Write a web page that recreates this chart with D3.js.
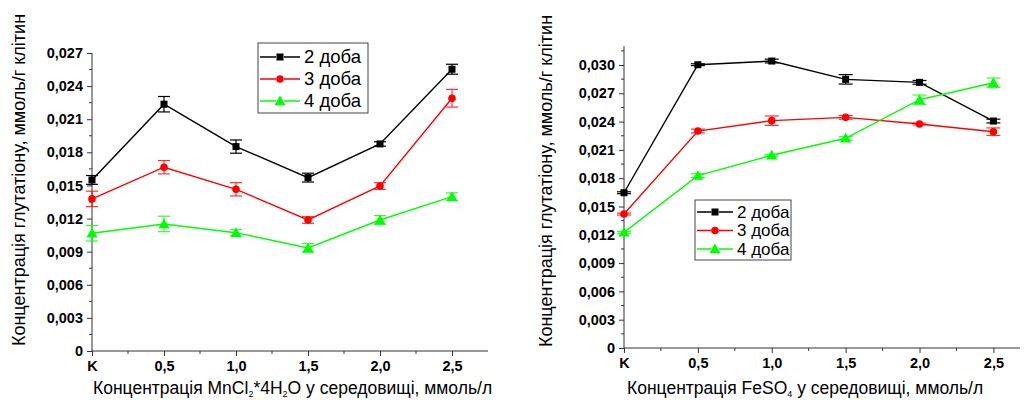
<!DOCTYPE html>
<html><head><meta charset="utf-8">
<script src="https://cdn.jsdelivr.net/npm/d3@7"></script>
<style>body{margin:0;background:#fff}svg{display:block}text{font-family:"Liberation Sans",Arial,sans-serif}</style>
</head><body><svg id="c" width="1025" height="400"></svg>
<script>
const xCats = [0, 0.5, 1.0, 1.5, 2.0, 2.5];
const xTickLabels = ["K", "0,5", "1,0", "1,5", "2,0", "2,5"];
const seriesNames = ["2 доба", "3 доба", "4 доба"];
const seriesColors = ["#000000", "#ff0000", "#00ff00"];
const seriesMarkers = ["square", "circle", "triangle"];

// Left: MnCl2
const mn2 = [0.0155, 0.02236, 0.01852, 0.01571, 0.01876, 0.02553];
const mn2Err = [0.0004, 0.0007, 0.0006, 0.0004, 0.0002, 0.00045];
const mn3 = [0.01378, 0.01665, 0.01465, 0.01187, 0.01495, 0.0229];
const mn3Err = [0.0007, 0.0006, 0.0006, 0.0003, 0.0003, 0.0008];
const mn4 = [0.01067, 0.01151, 0.01072, 0.00934, 0.01187, 0.01398];
const mn4Err = [0.0007, 0.0007, 0.0003, 0.0004, 0.0004, 0.00035];
const mnYTicks = [0, 0.003, 0.006, 0.009, 0.012, 0.015, 0.018, 0.021, 0.024, 0.027];

// Right: FeSO4
const fe2 = [0.01646, 0.03003, 0.03042, 0.02848, 0.02816, 0.02406];
const fe2Err = [0.0001, 0.0001, 0.0002, 0.0005, 0.0002, 0.0002];
const fe3 = [0.0142, 0.0230, 0.0241, 0.02445, 0.02375, 0.02293];
const fe3Err = [0.0001, 0.0002, 0.0005, 0.0002, 0.0001, 0.0004];
const fe4 = [0.01226, 0.01827, 0.02043, 0.02223, 0.02632, 0.02812];
const fe4Err = [0.0001, 0.0002, 0.0001, 0.0002, 0.0005, 0.0005];
const feYTicks = [0, 0.003, 0.006, 0.009, 0.012, 0.015, 0.018, 0.021, 0.024, 0.027, 0.030];

const yTitle = "Концентрація глутатіону, ммоль/г клітин";

const svg = d3.select("#c");
const fmtY = v => v === 0 ? "0" : d3.format(".3f")(v).replace(".", ",");

function chart(cfg) {
  const g = svg.append("g");
  const x = d3.scaleLinear().domain([0, cfg.xMax]).range([cfg.x0, cfg.x1]);
  const y = d3.scaleLinear().domain([0, cfg.yMax]).range([cfg.y0, cfg.y1]);
  const axisColor = "#333";

  const xa = g.append("g").attr("transform", `translate(0,${cfg.y0})`)
    .call(d3.axisBottom(x).tickValues(xCats).tickSize(5).tickPadding(5)
      .tickFormat((d, i) => xTickLabels[i]));
  const minorX = d3.range(0.25, cfg.xMax, 0.5);
  xa.selectAll(".minor").data(minorX).enter().append("line").attr("class", "minor")
    .attr("x1", d => x(d)).attr("x2", d => x(d)).attr("y1", 0).attr("y2", 3).attr("stroke", axisColor);
  const ya = g.append("g").attr("transform", `translate(${cfg.x0},0)`)
    .call(d3.axisLeft(y).tickValues(cfg.yTicks).tickSize(5).tickPadding(4).tickFormat(fmtY));
  const minorY = d3.range(0.0015, cfg.yMax, 0.003);
  ya.selectAll(".minor").data(minorY).enter().append("line").attr("class", "minor")
    .attr("y1", d => y(d)).attr("y2", d => y(d)).attr("x1", 0).attr("x2", -3).attr("stroke", axisColor);
  [xa, ya].forEach(a => {
    a.select(".domain").attr("stroke", axisColor);
    a.selectAll(".tick line").attr("stroke", axisColor);
    a.selectAll(".tick text").attr("fill", "#000").attr("font-size", 14.5).attr("font-weight", "bold")
      .attr("font-family", "'Liberation Sans',Arial,sans-serif");
  });
  xa.select(".domain").attr("d", `M${cfg.x0},0H${cfg.x1}`);
  ya.select(".domain").attr("d", `M0,${cfg.y0}V${cfg.y1}`);

  cfg.series.forEach((s, si) => {
    const col = seriesColors[si];
    const line = d3.line().x((d, i) => x(xCats[i])).y(d => y(d));
    g.append("path").attr("d", line(s.v)).attr("fill", "none").attr("stroke", col).attr("stroke-width", 1.4);
    s.v.forEach((v, i) => {
      const cx = x(xCats[i]), e = s.e[i];
      const eb = g.append("g").attr("stroke", col).attr("stroke-width", 1.2).attr("opacity", si === 0 ? 1 : 0.8);
      eb.append("line").attr("x1", cx).attr("x2", cx).attr("y1", y(v - e)).attr("y2", y(v + e));
      [v - e, v + e].forEach(w => eb.append("line").attr("x1", cx - cfg.cap).attr("x2", cx + cfg.cap)
        .attr("y1", y(w)).attr("y2", y(w)));
      marker(g, seriesMarkers[si], cx, y(v), col, cfg.ms);
    });
  });

  const L = cfg.legend;
  g.append("rect").attr("x", L.x).attr("y", L.y).attr("width", L.w).attr("height", L.h)
    .attr("fill", "#fff").attr("stroke", "#444").attr("stroke-width", 1);
  seriesNames.forEach((n, i) => {
    const ry = L.y + L.r0 + i * L.dy;
    g.append("line").attr("x1", L.x + 2).attr("x2", L.x + 2 + L.lw).attr("y1", ry).attr("y2", ry)
      .attr("stroke", seriesColors[i]).attr("stroke-width", 1.3).attr("stroke-dasharray", `${L.lw * 0.4} ${L.lw * 0.2} ${L.lw * 0.4}`);
    marker(g, seriesMarkers[i], L.x + 2 + L.lw / 2, ry, seriesColors[i], cfg.ms);
    g.append("text").attr("x", L.x + L.lw + 6).attr("y", ry).attr("dy", "0.35em")
      .attr("font-size", L.fs).text(n);
  });

  const xt = g.append("text").attr("x", cfg.xtX).attr("y", 394).attr("font-size", 17.5);
  cfg.xTitle(xt);
  g.append("text").attr("transform", `translate(${cfg.ytX},${cfg.ytY}) rotate(-90)`)
    .attr("text-anchor", "middle").attr("font-size", 18).text(yTitle);
}

function marker(g, type, cx, cy, col, s) {
  if (type === "square") g.append("rect").attr("x", cx - s / 2).attr("y", cy - s / 2).attr("width", s).attr("height", s).attr("fill", col);
  else if (type === "circle") g.append("circle").attr("cx", cx).attr("cy", cy).attr("r", s / 2 + 0.3).attr("fill", col);
  else g.append("path").attr("d", d3.symbol(d3.symbolTriangle, s * s * 1.1)()).attr("transform", `translate(${cx},${cy + 1})`).attr("fill", col);
}

chart({
  x0: 92, x1: 488, xMax: 2.75, y0: 351, y1: 53, yMax: 0.027, yTicks: mnYTicks, cap: 6, ms: 7,
  series: [{v: mn2, e: mn2Err}, {v: mn3, e: mn3Err}, {v: mn4, e: mn4Err}],
  legend: {x: 258, y: 43, w: 110, h: 70, r0: 14, dy: 22, lw: 40, fs: 18.5},
  xtX: 93, ytX: 25, ytY: 180,
  xTitle: t => {
    t.append("tspan").text("Концентрація MnCl");
    t.append("tspan").attr("font-size", 9).attr("dy", 3).text("2");
    t.append("tspan").attr("dy", -3).text("*4H");
    t.append("tspan").attr("font-size", 9).attr("dy", 3).text("2");
    t.append("tspan").attr("dy", -3).text("O у середовищі, ммоль/л");
  }
});

chart({
  x0: 624, x1: 1020, xMax: 2.68, y0: 348, y1: 348 - 283 * 0.032 / 0.030, yMax: 0.032, yTicks: feYTicks, cap: 7, ms: 7,
  series: [{v: fe2, e: fe2Err}, {v: fe3, e: fe3Err}, {v: fe4, e: fe4Err}],
  legend: {x: 695, y: 200, w: 96, h: 60, r0: 12, dy: 18.5, lw: 36, fs: 17},
  xtX: 627, ytX: 552, ytY: 181,
  xTitle: t => {
    t.append("tspan").text("Концентрація FeSO");
    t.append("tspan").attr("font-size", 9).attr("dy", 3).text("4");
    t.append("tspan").attr("dy", -3).text(" у середовищі, ммоль/л");
  }
});
</script></body></html>
